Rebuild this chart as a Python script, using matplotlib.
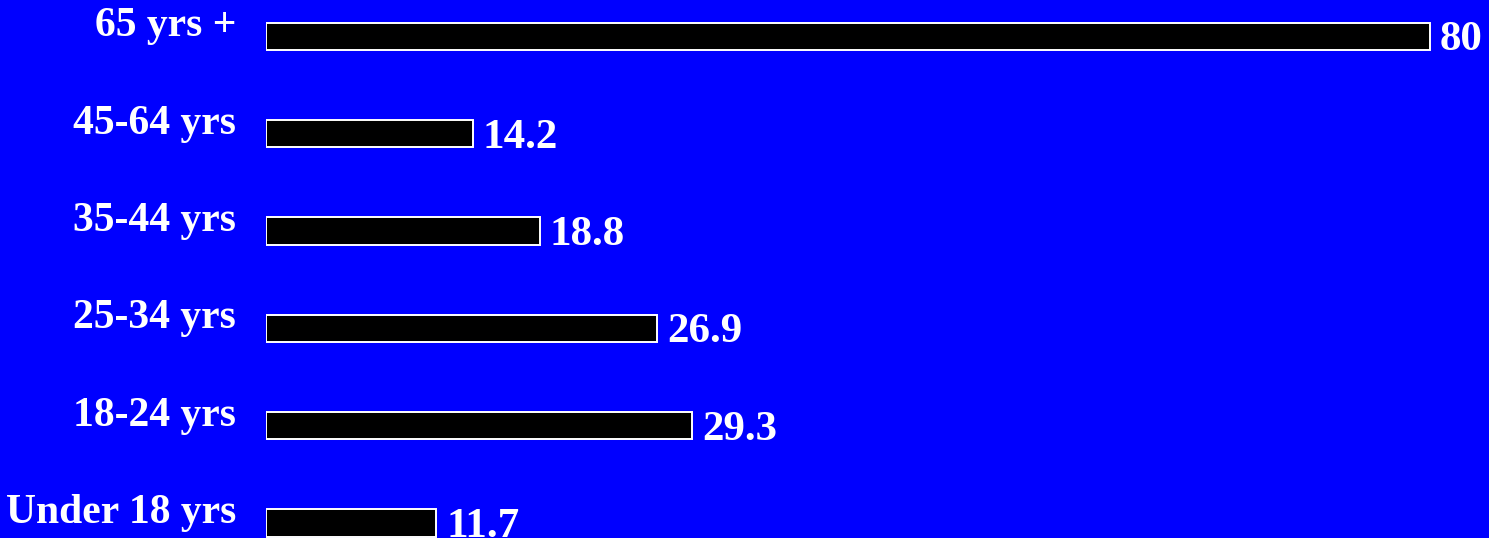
import matplotlib.pyplot as plt

plt.rcParams['font.family'] = ['Liberation Serif', 'DejaVu Serif']

categories = ['Under 18 yrs', '18-24 yrs', '25-34 yrs', '35-44 yrs', '45-64 yrs', '65 yrs +']
values = [11.7, 29.3, 26.9, 18.8, 14.2, 80]
value_labels = ['11.7', '29.3', '26.9', '18.8', '14.2', '80']

BLUE = '#0000FF'

fig = plt.figure(figsize=(14.89, 5.38), dpi=100, facecolor=BLUE)
ax = fig.add_axes([266 / 1489, 0, 1 - 266 / 1489, 1])
ax.set_facecolor(BLUE)

pos = list(range(len(categories)))
ax.barh(pos, values, height=0.28, color='black', edgecolor='white', linewidth=1.4)

ax.set_xlim(0, (1489 - 266) / 14.55)
ax.set_ylim(-0.154, 5.375)

for i, (cat, v, lab) in enumerate(zip(categories, values, value_labels)):
    # category name sits with its baseline on the bar centre
    ax.annotate(cat, xy=(0, i), xytext=(-30, 0), textcoords='offset pixels',
                ha='right', va='baseline', color='white', fontsize=30,
                fontweight='bold', annotation_clip=False)
    ax.annotate(lab, xy=(v, i), xytext=(10, -14), textcoords='offset pixels',
                ha='left', va='baseline', color='white', fontsize=31,
                fontweight='bold', annotation_clip=False)

ax.axis('off')
fig.savefig('out.png', dpi=100, facecolor=BLUE)
